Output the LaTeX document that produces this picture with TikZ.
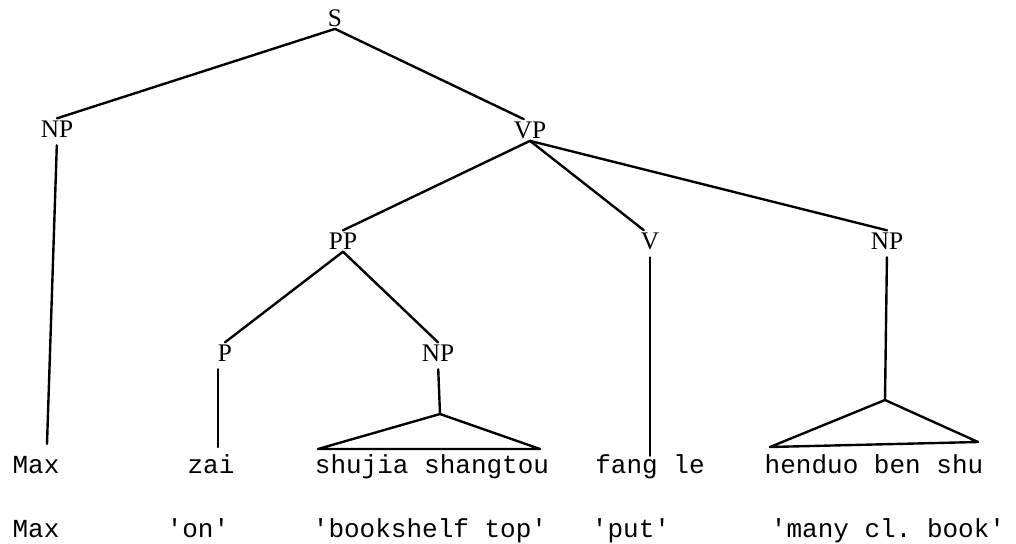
\documentclass[tikz,border=0pt]{standalone}
\usepackage{fontspec}
\setmainfont{Liberation Serif}
\setmonofont{Liberation Mono}
\begin{document}
\begin{tikzpicture}[
    x=0.025cm, y=-0.025cm,
    cat/.style={inner sep=1.5pt, font=\fontsize{18}{20}\selectfont},
    word/.style={anchor=base, inner xsep=0pt, inner ysep=5pt, text height=0.7em, text depth=0.25em, font=\ttfamily\fontsize{18.5}{20}\selectfont},
    branch/.style={line width=1.7pt, line cap=round, line join=round},
    stem/.style={branch, shorten <=4pt}
]
    \useasboundingbox (0,0) rectangle (1016,544);

    % Categories
    \node[cat] (s) at (335,18) {S};
    \node[cat] (np1) at (57,129) {NP};
    \node[cat] (vp) at (530,130) {VP};
    \node[cat] (pp) at (343,241) {PP};
    \node[cat] (v) at (650,241) {V};
    \node[cat] (np2) at (887,241) {NP};
    \node[cat] (p) at (225,353) {P};
    \node[cat] (np3) at (438,353) {NP};

    % Words
    \node[word] (max) at (36,473) {Max};
    \node[word] (zai) at (211,473) {zai};
    \node[word] (shujia) at (432,473) {shujia shangtou};
    \node[word] (fang) at (650,473) {fang le};
    \node[word] (henduo) at (874,473) {henduo ben shu};

    % Glosses
    \node[word] (gmax) at (36,537) {Max};
    \node[word] (gon) at (198,537) {'on'};
    \node[word] (gshelf) at (430,537) {'bookshelf top'};
    \node[word] (gput) at (631,537) {'put'};
    \node[word] (gbook) at (888,537) {'many cl. book'};

    % Leaf ends and triangles
    \coordinate (maxtop) at (47,444);
    \coordinate (zaitop) at (218,447);
    \coordinate (apexa) at (440,414);
    \coordinate (basea1) at (318,449);
    \coordinate (basea2) at (540,449);
    \coordinate (apexb) at (885,400);
    \coordinate (baseb1) at (770,447);
    \coordinate (baseb2) at (978,442);

    % Branches
    \draw[branch] (s.south) -- (np1.north);
    \draw[branch] (s.south) -- (vp.120);
    \draw[branch] (vp.south) -- (pp.north);
    \draw[branch] (vp.south) -- (v.120);
    \draw[branch] (vp.south) -- (np2.north);
    \draw[branch] (pp.south) -- (p.north);
    \draw[branch] (pp.south) -- (np3.north);
    \draw[stem] (np1.south) -- (maxtop);
    \draw[stem] (zaitop |- p.south) -- (zaitop);
    \draw[stem] (v.south) -- (fang.north);
    \draw[stem] (np3.south) -- (apexa);
    \draw[stem] (np2.south) -- (apexb);
    \draw[branch] (apexa) -- (basea1) -- (basea2) -- cycle;
    \draw[branch] (apexb) -- (baseb1) -- (baseb2) -- cycle;
\end{tikzpicture}
\end{document}
